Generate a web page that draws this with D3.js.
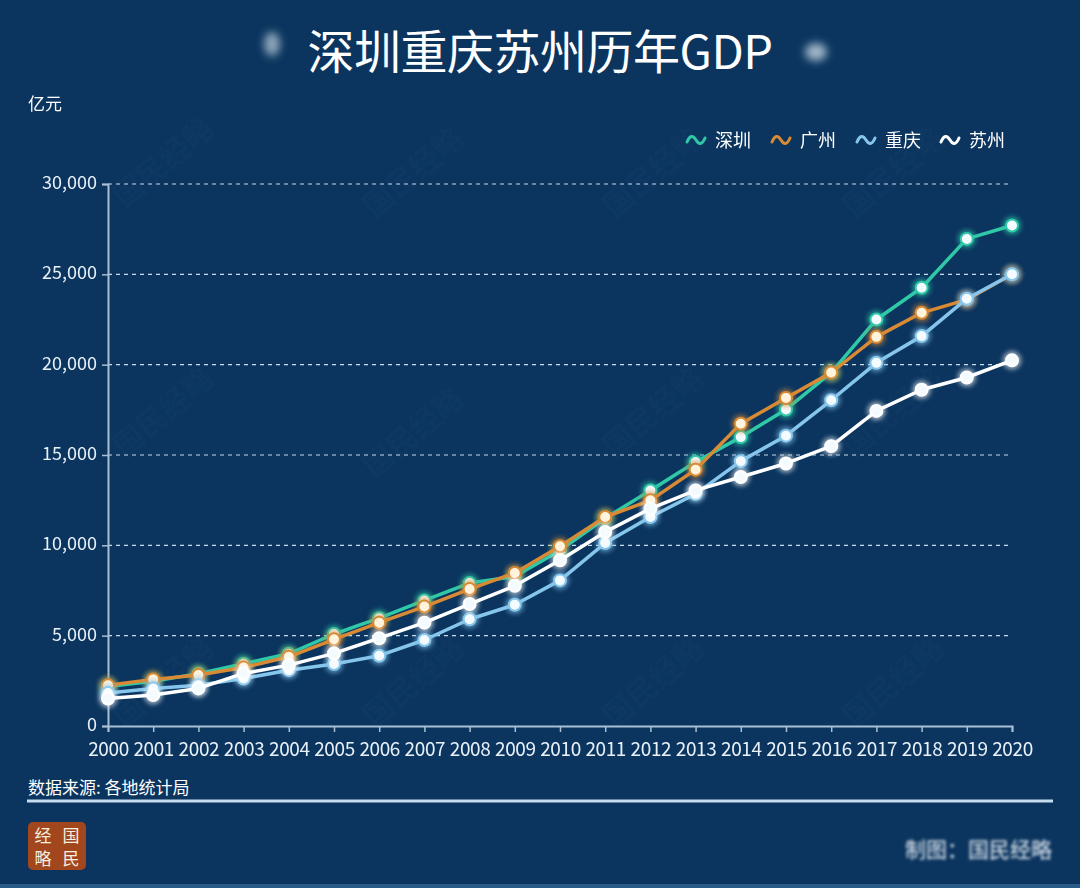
<!DOCTYPE html>
<html>
<head>
<meta charset="utf-8">
<script src="https://cdn.jsdelivr.net/npm/d3@7"></script>
<style>
  html, body { margin: 0; padding: 0; background: #0b355f; }
  svg { display: block; font-family: "Noto Sans CJK SC", "Noto Sans", sans-serif; }
</style>
</head>
<body>
<svg id="chart" width="1080" height="888"></svg>
<script>
const width = 1080;
const height = 888;

// data (亿元)
const years = d3.range(2000, 2021);
const shenzhen = [2190, 2480, 2900, 3450, 4000, 5090, 5970, 6950, 7910, 8280, 9720, 11500, 13040, 14610, 15990, 17520, 19560, 22500, 24260, 26960, 27700];
const guangzhou = [2250, 2580, 2820, 3240, 3830, 4800, 5720, 6610, 7580, 8470, 9950, 11570, 12490, 14190, 16730, 18160, 19560, 21540, 22870, 23600, 25000];
const chongqing = [1830, 2080, 2260, 2630, 3090, 3430, 3890, 4760, 5910, 6710, 8060, 10130, 11570, 12850, 14660, 16070, 18030, 20100, 21580, 23650, 25000];
const suzhou = [1520, 1710, 2080, 2910, 3370, 4020, 4860, 5720, 6750, 7760, 9170, 10740, 12030, 13040, 13780, 14530, 15490, 17440, 18610, 19290, 20240];
const yTicks = [0, 5000, 10000, 15000, 20000, 25000, 30000];

const seriesNames = ["深圳", "广州", "重庆", "苏州"];
const seriesColors = ["#2fc9a8", "#d98a34", "#86c6ec", "#ffffff"];
const seriesValues = [shenzhen, guangzhou, chongqing, suzhou];

const svg = d3.select("#chart");
const defs = svg.append("defs");

defs.append("filter").attr("id", "glow")
  .attr("x", "-100%").attr("y", "-100%").attr("width", "300%").attr("height", "300%")
  .append("feGaussianBlur").attr("stdDeviation", 2.4);

defs.append("filter").attr("id", "blur")
  .attr("x", "-50%").attr("y", "-50%").attr("width", "200%").attr("height", "200%")
  .append("feGaussianBlur").attr("stdDeviation", 4);

defs.append("filter").attr("id", "blurText")
  .attr("x", "-20%").attr("y", "-50%").attr("width", "140%").attr("height", "200%")
  .append("feGaussianBlur").attr("stdDeviation", 1.8);

svg.append("rect").attr("width", width).attr("height", height).attr("fill", "#0b355f");
svg.append("rect").attr("x", 0).attr("y", 884).attr("width", width).attr("height", 4).attr("fill", "#2a5a88");

const x = d3.scaleLinear().domain([2000, 2020]).range([108, 1012]);
const y = d3.scaleLinear().domain([0, 30000]).range([726, 184]);

// faint watermarks
const wm = svg.append("g").attr("opacity", 0.025).attr("fill", "#9fd0ff")
  .attr("font-size", 30).attr("font-weight", "bold");
[[170, 170], [420, 180], [660, 180], [900, 180], [170, 420], [420, 440], [660, 420], [900, 420], [170, 690], [420, 690], [660, 690], [900, 690]]
  .forEach(([wx, wy]) => {
    wm.append("text").attr("transform", `translate(${wx},${wy}) rotate(-40)`)
      .attr("text-anchor", "middle").text("国民经略");
  });

// title
svg.append("text")
  .attr("x", 540).attr("y", 69)
  .attr("text-anchor", "middle")
  .attr("fill", "#ffffff")
  .attr("font-size", 47)
  .attr("letter-spacing", "-0.5px")
  .text("深圳重庆苏州历年GDP");

// blurred blobs beside title
svg.append("ellipse").attr("cx", 272).attr("cy", 44).attr("rx", 8).attr("ry", 12)
  .attr("fill", "#c8d8e4").attr("opacity", 0.7).attr("filter", "url(#blur)");
svg.append("ellipse").attr("cx", 816).attr("cy", 52).attr("rx", 11).attr("ry", 9)
  .attr("fill", "#c8d8e4").attr("opacity", 0.8).attr("filter", "url(#blur)");

// unit
svg.append("text").attr("x", 28).attr("y", 110)
  .attr("fill", "#ffffff").attr("font-size", 17).text("亿元");

// grid
svg.append("g").selectAll("line")
  .data(yTicks.filter((d) => d > 0))
  .enter().append("line")
  .attr("x1", x(2000)).attr("x2", x(2020))
  .attr("y1", (d) => y(d)).attr("y2", (d) => y(d))
  .attr("stroke", "#c9dcee").attr("stroke-width", 1.2)
  .attr("stroke-dasharray", "4,4");

// axes
const yAxis = svg.append("g")
  .attr("transform", `translate(${x(2000)},0)`)
  .call(d3.axisLeft(y).tickValues(yTicks).tickSize(6).tickPadding(5).tickFormat(d3.format(",")));
const xAxis = svg.append("g")
  .attr("transform", `translate(0,${y(0)})`)
  .call(d3.axisBottom(x).tickValues(years).tickSize(6).tickPadding(11).tickFormat((d) => String(d)));

[yAxis, xAxis].forEach((a) => {
  a.select(".domain").attr("stroke", "#a9bfd4").attr("stroke-width", 2);
  a.selectAll(".tick line").attr("stroke", "#a9bfd4").attr("stroke-width", 1.5);
  a.selectAll(".tick text").attr("fill", "#e8f0f8").attr("font-size", 18)
    .attr("font-family", "'Noto Sans CJK SC', sans-serif");
});
xAxis.selectAll(".tick text").attr("font-size", 19).attr("letter-spacing", "-0.4px");
yAxis.selectAll(".tick text").attr("dy", "0.25em");

// lines
const line = d3.line().x((d, i) => x(years[i])).y((d) => y(d));

const series = svg.append("g").selectAll("g")
  .data(seriesValues.map((v, i) => ({ name: seriesNames[i], color: seriesColors[i], values: v })))
  .enter().append("g");

series.append("path")
  .attr("d", (d) => line(d.values))
  .attr("fill", "none")
  .attr("stroke", (d) => d.color)
  .attr("stroke-width", 3.5)
  .attr("stroke-linejoin", "round");

// markers: glow + ring + light center
series.each(function (s) {
  const g = d3.select(this);
  g.selectAll("circle.halo").data(s.values).enter().append("circle")
    .attr("class", "halo")
    .attr("cx", (d, i) => x(years[i])).attr("cy", (d) => y(d))
    .attr("r", 9).attr("fill", s.color).attr("opacity", 0.65)
    .attr("filter", "url(#glow)");
  g.selectAll("circle.dot").data(s.values).enter().append("circle")
    .attr("class", "dot")
    .attr("cx", (d, i) => x(years[i])).attr("cy", (d) => y(d))
    .attr("r", 6)
    .attr("fill", s.name === "广州" ? "#fff3dc" : "#f4fbff")
    .attr("stroke", s.color).attr("stroke-width", 2);
});

// legend
const legendX = [687, 772, 857, 941];
const legend = svg.append("g").selectAll("g")
  .data(seriesNames.map((n, i) => ({ name: n, color: seriesColors[i], lx: legendX[i] })))
  .enter().append("g")
  .attr("transform", (d) => `translate(${d.lx},140)`);

legend.append("path")
  .attr("d", "M0,2 C3,-5 6,-5 9,0 C12,5 15,5 18,-2")
  .attr("fill", "none")
  .attr("stroke", (d) => d.color)
  .attr("stroke-width", 3)
  .attr("stroke-linecap", "round");

legend.append("text")
  .attr("x", 28).attr("y", 7)
  .attr("fill", "#ffffff").attr("font-size", 18)
  .text((d) => d.name);

// footer
svg.append("text").attr("x", 28).attr("y", 794)
  .attr("fill", "#ffffff").attr("font-size", 17).text("数据来源: 各地统计局");
svg.append("line").attr("x1", 27).attr("x2", 1053).attr("y1", 801).attr("y2", 801)
  .attr("stroke", "#c6dcf0").attr("stroke-width", 3);

// logo
const logo = svg.append("g").attr("transform", "translate(28,822)");
logo.append("rect").attr("width", 58).attr("height", 48).attr("rx", 5).attr("fill", "#a2461d");
const logoChars = [["经", 15, 20], ["国", 43, 20], ["略", 15, 43], ["民", 43, 43]];
logo.selectAll("text").data(logoChars).enter().append("text")
  .attr("x", (d) => d[1]).attr("y", (d) => d[2])
  .attr("text-anchor", "middle").attr("fill", "#f7efe0")
  .attr("font-size", 17).attr("font-family", "'Noto Sans CJK SC', serif")
  .text((d) => d[0]);

svg.append("text").attr("x", 1052).attr("y", 857)
  .attr("text-anchor", "end").attr("fill", "#e8eef5").attr("font-size", 21)
  .attr("filter", "url(#blurText)")
  .text("制图：国民经略");
</script>
</body>
</html>
